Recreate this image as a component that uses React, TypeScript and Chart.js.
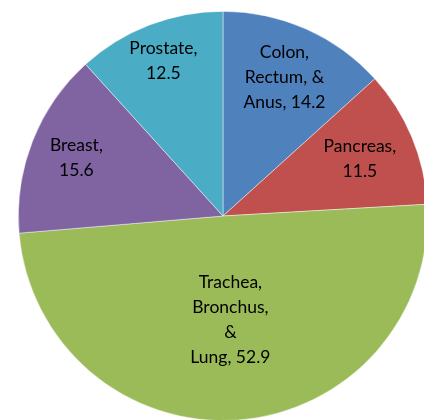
import React, { useEffect, useRef } from "react";
import { Chart, registerables } from "chart.js";

Chart.register(...registerables);

const categories: string[][] = [
  ["Colon,", "Rectum, &", "Anus,"],
  ["Pancreas,"],
  ["Trachea,", "Bronchus,", "&", "Lung,"],
  ["Breast,"],
  ["Prostate,"],
];
const values: number[] = [14.2, 11.5, 52.9, 15.6, 12.5];
const colors: string[] = ["#4F81BD", "#C0504D", "#9BBB59", "#8064A2", "#4BACC6"];
const labelRadiusFraction: number[] = [0.74, 0.725, 0.51, 0.77, 0.81];

const labelPlugin = {
  id: "sliceLabels",
  afterDatasetsDraw(chart: any) {
    const ctx = chart.ctx;
    const meta = chart.getDatasetMeta(0);
    ctx.save();
    ctx.font = "17.5px Lato, 'Liberation Sans', sans-serif";
    ctx.fillStyle = "#000";
    ctx.textAlign = "center";
    ctx.textBaseline = "middle";
    const lineH = 25;
    meta.data.forEach((arc: any, i: number) => {
      const { x, y, startAngle, endAngle, outerRadius } = arc.getProps(
        ["x", "y", "startAngle", "endAngle", "outerRadius"],
        true
      );
      const mid = (startAngle + endAngle) / 2;
      const r = outerRadius * labelRadiusFraction[i];
      const cx = x + Math.cos(mid) * r;
      const cy = y + Math.sin(mid) * r;
      const name = categories[i];
      const v = values[i].toFixed(1);
      let lines: string[];
      if (name.length > 1) {
        lines = [...name.slice(0, -1), name[name.length - 1] + " " + v];
      } else {
        lines = [name[0], v];
      }
      const top = cy - ((lines.length - 1) * lineH) / 2;
      lines.forEach((ln, k) => ctx.fillText(ln, cx, top + k * lineH));
    });
    ctx.restore();
  },
};

export default function App() {
  const ref = useRef<HTMLCanvasElement | null>(null);
  useEffect(() => {
    if (!ref.current) return;
    const chart = new Chart(ref.current, {
      type: "pie",
      data: {
        labels: categories.map((c) => c.join(" ")),
        datasets: [
          {
            data: values,
            backgroundColor: colors,
            borderColor: "rgba(255,255,255,0.6)",
            borderWidth: 0.75,
          },
        ],
      },
      options: {
        responsive: false,
        animation: false,
        layout: { padding: 0 },
        plugins: {
          legend: { display: false },
          tooltip: { enabled: false },
          title: { display: false },
        },
      },
      plugins: [labelPlugin],
    });
    return () => chart.destroy();
  }, []);
  return (
    <div
      style={{
        position: "fixed",
        left: 0,
        top: 0,
        width: 424,
        height: 420,
        overflow: "hidden",
        background: "#fff",
      }}
    >
      <canvas
        ref={ref}
        width={410}
        height={410}
        style={{ position: "absolute", left: 18, top: 11, width: 410, height: 410 }}
      />
    </div>
  );
}
